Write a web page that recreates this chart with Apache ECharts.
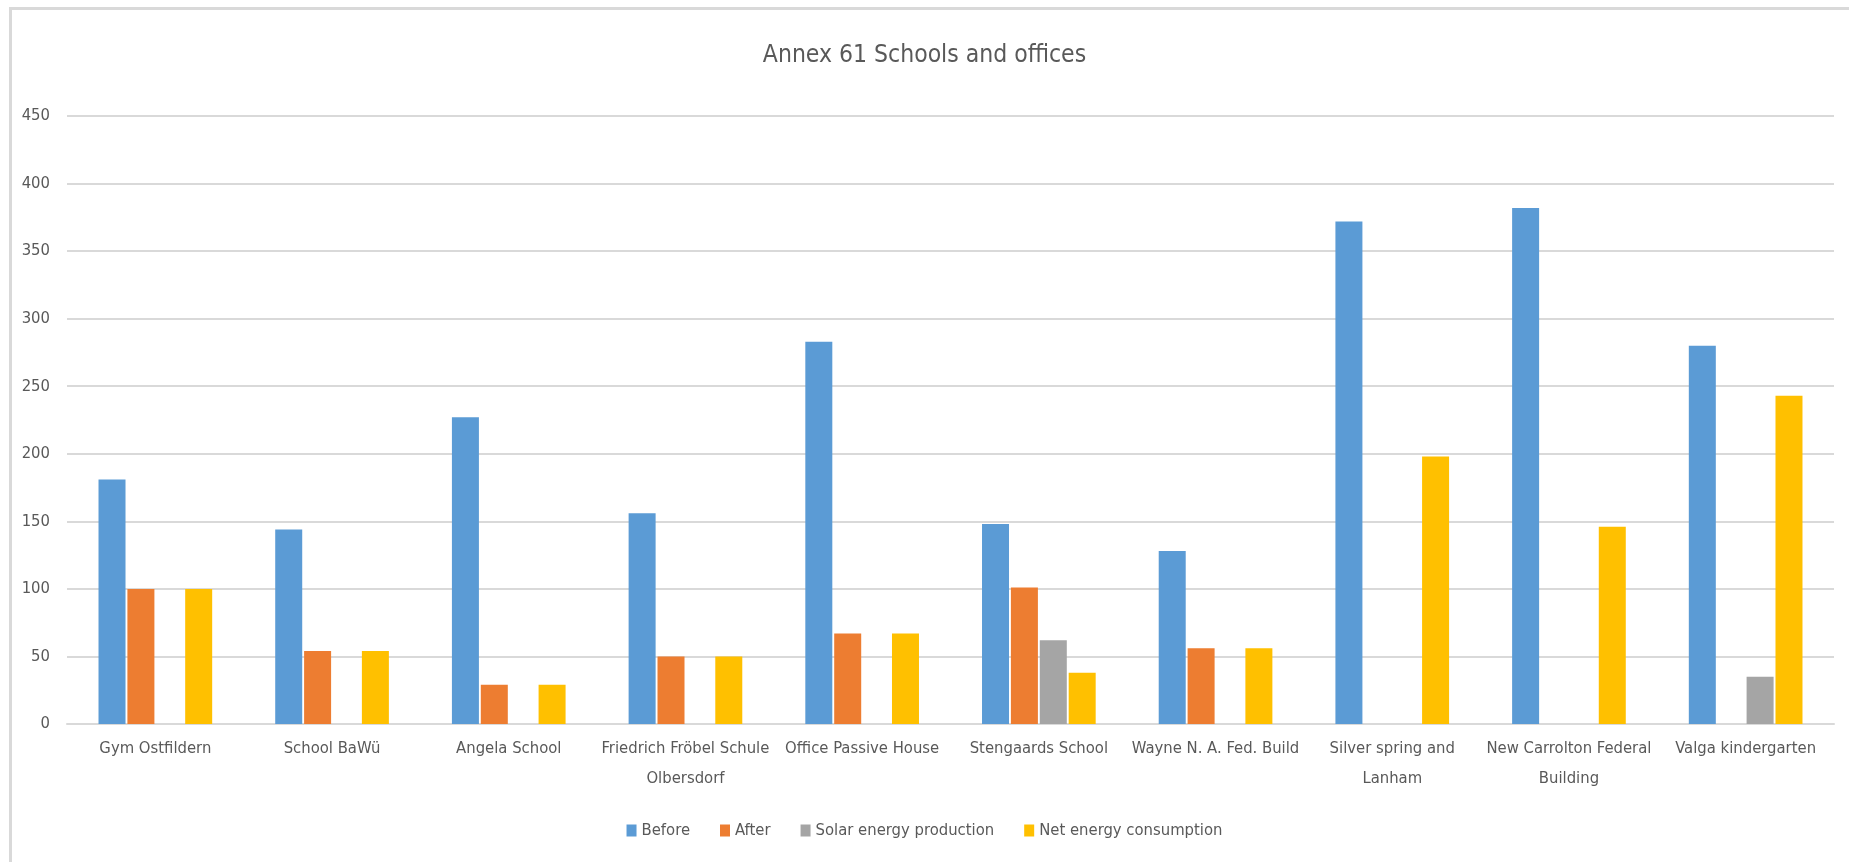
<!DOCTYPE html>
<html>
<head>
<meta charset="utf-8">
<script src="https://cdn.jsdelivr.net/npm/echarts@6/dist/echarts.min.js"></script>
<style>
html,body{margin:0;padding:0;background:#fff;}
#chart{width:1849px;height:862px;}
</style>
</head>
<body>
<div id="chart"></div>
<script>
const titleText = 'Annex 61 Schools and offices';
const categories = [
  'Gym Ostfildern',
  'School BaWü',
  'Angela School',
  'Friedrich Fröbel Schule\nOlbersdorf',
  'Office Passive House',
  'Stengaards School',
  'Wayne N. A. Fed. Build',
  'Silver spring and\nLanham',
  'New Carrolton Federal\nBuilding',
  'Valga kindergarten'
];
const seriesNames = ['Before', 'After', 'Solar energy production', 'Net energy consumption'];
const before = [181, 144, 227, 156, 283, 148, 128, 372, 382, 280];
const after = [100, 54, 29, 50, 67, 101, 56, null, null, null];
const solar = [null, null, null, null, null, 62, null, null, null, 35];
const net = [100, 54, 29, 50, 67, 38, 56, 198, 146, 243];
const colors = ['#5B9BD5', '#ED7D31', '#A5A5A5', '#FFC000'];

const FONT = '"Liberation Sans Narrow", "DejaVu Sans Condensed", "Open Sans", sans-serif';
const chart = echarts.init(document.getElementById('chart'));
const values = [before, after, solar, net];

chart.setOption({
  backgroundColor: '#ffffff',
  animation: false,
  color: colors,
  textStyle: { fontFamily: FONT },
  title: {
    text: titleText,
    left: 'center',
    top: 38,
    textStyle: { fontFamily: FONT, fontSize: 24.5, fontWeight: 'normal', color: '#595959' }
  },
  legend: {
    data: seriesNames,
    top: 817,
    left: 'center',
    icon: 'rect',
    itemWidth: 10,
    itemHeight: 12,
    itemGap: 30,
    textStyle: { fontFamily: FONT, fontSize: 16.5, color: '#595959' }
  },
  grid: { left: 67, right: 15, top: 116, bottom: 138, containLabel: false },
  xAxis: {
    type: 'category',
    data: categories,
    axisTick: { show: false },
    axisLine: { lineStyle: { color: '#D9D9D9', width: 2 } },
    axisLabel: {
      interval: 0,
      margin: 10,
      fontFamily: FONT,
      fontSize: 16.5,
      lineHeight: 30,
      color: '#595959'
    }
  },
  yAxis: {
    type: 'value',
    min: 0,
    max: 450,
    interval: 50,
    axisLine: { show: false },
    axisTick: { show: false },
    splitLine: { lineStyle: { color: '#D9D9D9', width: 2 } },
    axisLabel: { margin: 17, fontFamily: FONT, fontSize: 16.5, color: '#595959' }
  },
  graphic: [{
    type: 'rect',
    left: 8, top: 6,
    shape: { width: 1900, height: 900 },
    style: { fill: 'none', stroke: '#D9D9D9', lineWidth: 3 },
    silent: true
  }],
  series: seriesNames.map((n, i) => ({
    name: n,
    type: 'bar',
    data: values[i],
    barWidth: 27,
    barGap: '7%',
    itemStyle: { color: colors[i] }
  }))
});
</script>
</body>
</html>
